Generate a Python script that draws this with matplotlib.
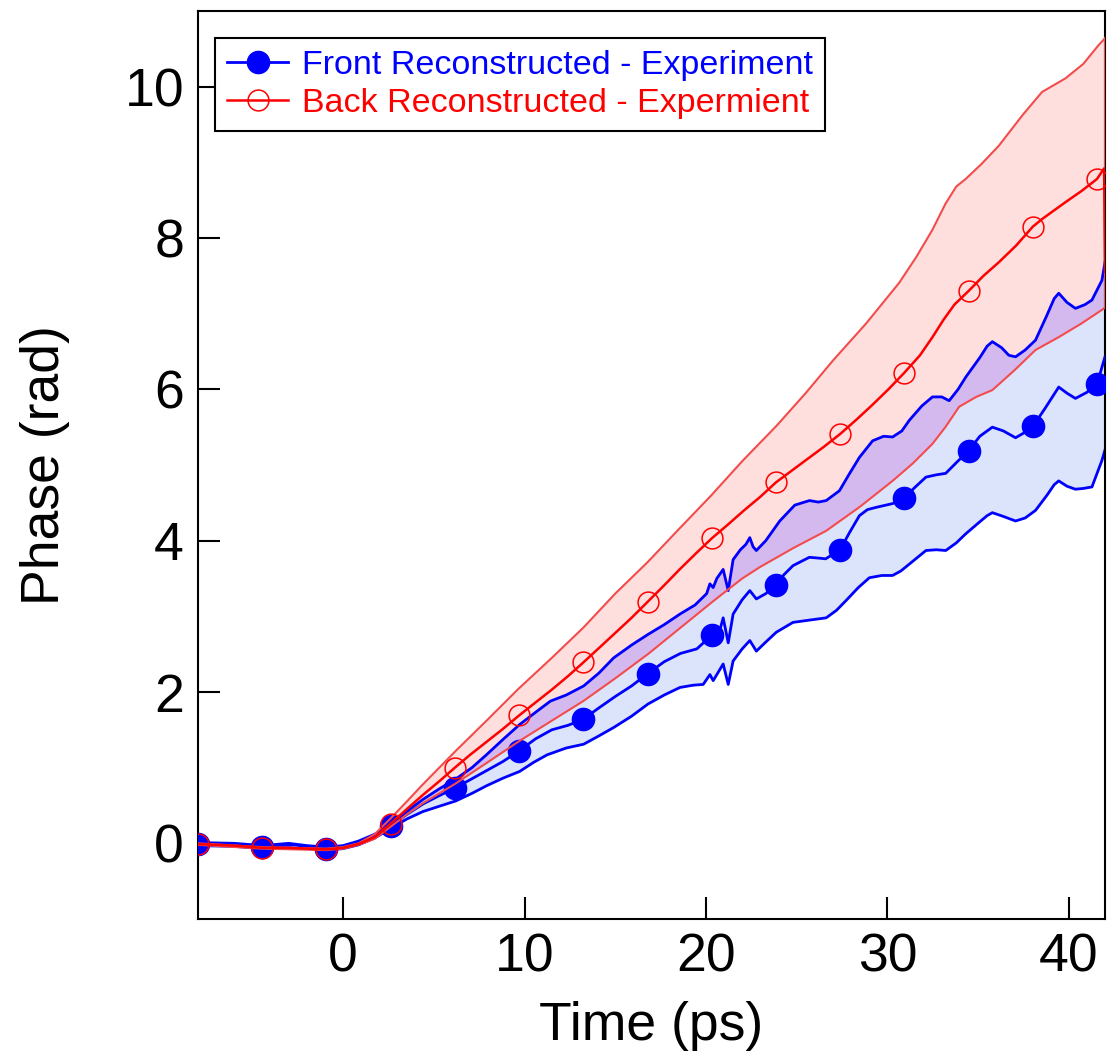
import numpy as np
import matplotlib
matplotlib.use("Agg")
import matplotlib.pyplot as plt

plt.rcParams['font.family'] = ['Liberation Sans', 'DejaVu Sans']

# ---------------- data ----------------
marker_times = [-8.0, -4.46, -0.92, 2.62, 6.16, 9.7, 13.24, 16.78, 20.32,
                23.86, 27.4, 30.94, 34.48, 38.02, 41.56]

# Front (blue) mean
front_t = [-8.0, -7.0, -6.0, -5.2, -4.46, -3.6, -2.7, -1.8, -0.92, 0.0, 0.85, 1.74,
           2.62, 3.5, 4.4, 5.3, 6.16, 7.0, 7.9, 8.8, 9.7, 10.6, 11.5, 12.4, 13.24,
           14.1, 15.0, 15.9, 16.78, 17.7, 18.6, 19.5, 20.32, 20.75, 20.95, 21.23,
           21.5, 22.0, 22.42, 22.78, 23.3, 23.86, 24.3, 24.8, 25.7, 26.2, 26.6, 27.4, 27.9,
           28.46, 28.9, 29.38, 30.29, 30.94, 31.5, 32.13, 32.7, 33.22, 33.8, 34.48, 35.1,
           35.79, 36.4, 37.07, 37.5, 38.02, 38.7, 39.45, 39.9, 40.37, 41.0, 41.56, 42.0]
front_y = [-0.01, -0.01, -0.02, -0.04, -0.05, -0.03, -0.02, -0.05, -0.07, -0.05, 0.01, 0.10,
           0.23, 0.38, 0.52, 0.63, 0.73, 0.84, 0.96, 1.08, 1.22, 1.38, 1.50, 1.56, 1.64,
           1.79, 1.94, 2.08, 2.24, 2.40, 2.51, 2.57, 2.75, 2.80, 2.98, 2.65,
           3.03, 3.22, 3.34, 3.23, 3.30, 3.42, 3.55, 3.67, 3.78, 3.77, 3.76, 3.88, 4.10,
           4.33, 4.41, 4.44, 4.49, 4.56, 4.70, 4.84, 4.87, 4.89, 5.03, 5.19, 5.38,
           5.50, 5.45, 5.36, 5.42, 5.51, 5.75, 6.03, 5.95, 5.88, 5.96, 6.07, 6.43]

# Front (blue) upper bound
front_up_t = [-8.0, -6.0, -4.46, -3.0, -2.0, -0.92, 0.0, 0.85, 1.74, 2.64, 3.5, 4.4,
              5.3, 6.21, 7.1, 7.9, 8.8, 9.73, 10.6, 11.43, 12.3, 13.26, 14.1, 14.91,
              15.9, 16.8, 17.7, 18.57, 19.4, 20.04, 20.22, 20.4, 20.6, 20.95, 21.23,
              21.5, 21.9, 22.2, 22.42, 22.6, 22.78, 23.3, 24.07, 24.9, 25.71, 26.2, 26.63,
              27.36, 27.9, 28.46, 29.19, 29.8, 30.29, 30.8, 31.21, 31.9, 32.49, 33.0,
              33.41, 33.9, 34.32, 35.1, 35.5, 35.79, 36.3, 36.7, 37.07, 37.6, 38.17, 38.8,
              39.2, 39.45, 39.9, 40.37, 40.9, 41.28, 41.83, 42.0]
front_up_y = [0.01, 0.0, -0.03, 0.0, -0.03, -0.05, -0.03, 0.03, 0.12, 0.25, 0.42, 0.58,
              0.72, 0.85, 1.0, 1.17, 1.37, 1.57, 1.73, 1.88, 1.96, 2.08, 2.25, 2.45,
              2.62, 2.76, 2.89, 3.03, 3.15, 3.30, 3.43, 3.38, 3.50, 3.62, 3.34,
              3.75, 3.88, 3.95, 4.04, 3.92, 3.87, 4.0, 4.26, 4.47, 4.53, 4.51, 4.53,
              4.66, 4.88, 5.10, 5.32, 5.38, 5.37, 5.45, 5.59, 5.78, 5.90, 5.90,
              5.85, 6.0, 6.16, 6.42, 6.57, 6.63, 6.55, 6.45, 6.43, 6.52, 6.65, 6.98,
              7.20, 7.27, 7.15, 7.07, 7.12, 7.18, 7.44, 7.68]

# Front (blue) lower bound
front_lo_t = [-8.0, -6.0, -4.46, -3.0, -2.0, -0.92, 0.0, 0.85, 1.74, 2.64, 3.5, 4.4,
              5.3, 6.21, 7.1, 7.9, 8.8, 9.73, 10.5, 11.25, 12.3, 13.26, 14.1, 14.91,
              15.9, 16.8, 17.7, 18.57, 19.3, 19.85, 20.22, 20.4, 20.95, 21.23, 21.5,
              22.0, 22.42, 22.78, 23.3, 23.88, 24.8, 25.7, 26.63, 27.2, 27.73, 28.4,
              29.01, 29.7, 30.29, 30.75, 31.21, 32.13, 32.7, 33.22, 33.8, 34.32, 35.1,
              35.5, 35.79, 36.4, 37.07, 37.6, 38.17, 38.8, 39.2, 39.45, 39.9, 40.37, 40.8,
              41.28, 41.83, 42.0]
front_lo_y = [-0.03, -0.04, -0.07, -0.06, -0.07, -0.09, -0.07, -0.02, 0.07, 0.20, 0.32, 0.42,
              0.49, 0.56, 0.66, 0.76, 0.86, 0.95, 1.07, 1.17, 1.26, 1.31, 1.42, 1.53,
              1.68, 1.84, 1.96, 2.06, 2.09, 2.10, 2.23, 2.15, 2.37, 2.10, 2.41,
              2.57, 2.68, 2.54, 2.66, 2.79, 2.92, 2.95, 2.98, 3.08, 3.21, 3.38,
              3.51, 3.54, 3.54, 3.60, 3.69, 3.87, 3.88, 3.87, 3.97, 4.09, 4.25,
              4.33, 4.37, 4.32, 4.26, 4.30, 4.40, 4.60, 4.74, 4.79, 4.72, 4.68, 4.69,
              4.71, 5.06, 5.20]

# Back (red) mean
back_t = [-8.0, -6.0, -4.46, -3.0, -2.0, -0.92, 0.0, 0.85, 1.74, 2.62, 3.5, 4.4, 5.3,
          6.16, 7.0, 7.9, 8.8, 9.7, 10.6, 11.5, 12.4, 13.24, 14.1, 15.0, 15.9, 16.78,
          17.7, 18.55, 19.4, 20.32, 21.2, 22.1, 23.0, 23.86, 24.7, 25.6, 26.5, 27.4,
          28.3, 29.2, 30.1, 30.94, 31.8, 32.49, 33.1, 33.7, 34.48, 35.3, 36.15, 37.1, 38.02,
          38.53, 39.8, 40.7, 41.56, 41.95, 42.0]
back_y = [-0.01, -0.03, -0.06, -0.06, -0.07, -0.08, -0.06, -0.01, 0.08, 0.26, 0.45, 0.64, 0.82,
          1.00, 1.17, 1.34, 1.51, 1.69, 1.86, 2.03, 2.21, 2.39, 2.58, 2.78, 2.98, 3.19,
          3.41, 3.62, 3.82, 4.03, 4.21, 4.40, 4.58, 4.77, 4.92, 5.08, 5.24, 5.41,
          5.60, 5.80, 6.01, 6.22, 6.45, 6.69, 6.92, 7.12, 7.30, 7.50, 7.68, 7.90, 8.15,
          8.25, 8.47, 8.62, 8.78, 8.92, 7.55]

# Back (red) upper bound
back_up_t = [-8.0, -4.46, -0.92, 0.0, 0.85, 1.74, 2.62, 3.5, 4.4, 5.3, 6.2, 7.9, 9.7,
             11.5, 13.24, 15.0, 16.8, 18.5, 20.3, 22.0, 23.9, 25.5, 27.0, 28.83, 30.66,
             31.6, 32.49, 33.2, 33.8, 34.32, 35.2, 36.15, 37.44, 38.53, 39.82, 40.8, 41.65, 42.0]
back_up_y = [0.0, -0.05, -0.07, -0.05, 0.0, 0.12, 0.33, 0.55, 0.78, 1.0, 1.22, 1.62, 2.05,
             2.45, 2.85, 3.30, 3.72, 4.15, 4.60, 5.05, 5.52, 5.95, 6.38, 6.87, 7.41,
             7.75, 8.11, 8.45, 8.68, 8.78, 8.98, 9.22, 9.62, 9.93, 10.11, 10.30, 10.55, 10.64]

# Back (red) lower bound
back_lo_t = [-8.0, -4.46, -0.92, 0.0, 0.85, 1.74, 2.62, 3.5, 4.4, 5.3, 6.2, 7.9, 9.7,
             11.5, 13.24, 15.0, 16.8, 18.6, 20.4, 22.0, 22.97, 24.8, 26.63, 28.5, 30.29,
             31.4, 32.49, 33.2, 33.96, 34.9, 35.79, 37.0, 38.17, 39.45, 40.7, 41.83, 42.0]
back_lo_y = [-0.02, -0.07, -0.09, -0.07, -0.02, 0.06, 0.22, 0.38, 0.53, 0.66, 0.79, 1.06, 1.35,
             1.62, 1.88, 2.18, 2.50, 2.85, 3.20, 3.50, 3.65, 3.90, 4.13, 4.45, 4.79,
             5.02, 5.28, 5.50, 5.77, 5.90, 5.99, 6.25, 6.52, 6.69, 6.87, 7.05, 7.08]

x_ticks = [0, 10, 20, 30, 40]
y_ticks = [0, 2, 4, 6, 8, 10]
labels = ["Front Reconstructed - Experiment", "Back Reconstructed - Expermient"]

# ---------------- style ----------------
BLUE = '#0000FF'
RED = '#FF0000'
RED_EDGE = '#F24C4C'
PINK = '#FFDEDE'
LIGHTBLUE = '#DCE4FB'
PURPLE = '#D4B9EF'

fig = plt.figure(figsize=(11.07, 10.61), dpi=100)
ax = fig.add_axes([198/1107, 1 - 919/1061, (1105-198)/1107, (919-11)/1061])


def band_polygon(tu, yu, tl, yl):
    xs = np.concatenate([np.asarray(tu), np.asarray(tl)[::-1]])
    ys = np.concatenate([np.asarray(yu), np.asarray(yl)[::-1]])
    return xs, ys


# red band
rx, ry = band_polygon(back_up_t, back_up_y, back_lo_t, back_lo_y)
red_patch = ax.fill(rx, ry, facecolor=PINK, edgecolor='none', zorder=1)[0]
# blue band
bx, by = band_polygon(front_up_t, front_up_y, front_lo_t, front_lo_y)
ax.fill(bx, by, facecolor=LIGHTBLUE, edgecolor='none', zorder=1.1)
# overlap region (purple)
purple = ax.fill(bx, by, facecolor=PURPLE, edgecolor='none', zorder=1.2)[0]
purple.set_clip_path(red_patch)

# blue lines
ax.plot(front_up_t, front_up_y, color=BLUE, lw=2.0, zorder=2)
ax.plot(front_lo_t, front_lo_y, color=BLUE, lw=2.0, zorder=2)
fmask = np.isin(np.round(front_t, 2), np.round(marker_times, 2))
front_idx = list(np.nonzero(fmask)[0])
ax.plot(front_t, front_y, color=BLUE, lw=2.0, marker='o', markersize=16,
        markerfacecolor=BLUE, markeredgecolor=BLUE, markevery=front_idx,
        zorder=3, label=labels[0])

# red lines
ax.plot(back_up_t, back_up_y, color=RED_EDGE, lw=1.5, zorder=4)
ax.plot(back_lo_t, back_lo_y, color=RED_EDGE, lw=1.5, zorder=4)
ax.plot([back_up_t[-1], back_lo_t[-1]], [back_up_y[-1], back_lo_y[-1]],
        color=RED_EDGE, lw=1.5, zorder=4)
bmask = np.isin(np.round(back_t, 2), np.round(marker_times, 2))
back_idx = list(np.nonzero(bmask)[0])
ax.plot(back_t, back_y, color=RED, lw=1.8, marker='o', markersize=15,
        markerfacecolor='none', markeredgecolor=RED, markeredgewidth=1.1,
        markevery=back_idx, zorder=5, label=labels[1])

# axes
ax.set_xlim(-8, 42)
ax.set_ylim(-1, 11)
ax.set_xticks(x_ticks)
ax.set_yticks(y_ticks)
ax.tick_params(axis='both', which='major', direction='in', length=16, width=1.5,
               labelsize=38.5, colors='black', top=False, right=False)
ax.tick_params(axis='x', pad=10)
ax.tick_params(axis='y', pad=10)
for s in ax.spines.values():
    s.set_linewidth(1.5)
    s.set_color('black')

ax.set_xlabel("Time (ps)", fontsize=38.5, labelpad=13)
ax.set_ylabel("Phase (rad)", fontsize=38.5, labelpad=39)

leg = ax.legend(loc='upper left', bbox_to_anchor=(17/907, 1 - 27/908),
                borderaxespad=0, fontsize=24.5, frameon=True, fancybox=False,
                edgecolor='black', framealpha=1, handlelength=1.8,
                handletextpad=0.4, labelspacing=0.2, borderpad=0.35)
leg.get_frame().set_linewidth(1.5)
for txt, col in zip(leg.get_texts(), [BLUE, RED]):
    txt.set_color(col)

fig.savefig("out.png", dpi=100)
